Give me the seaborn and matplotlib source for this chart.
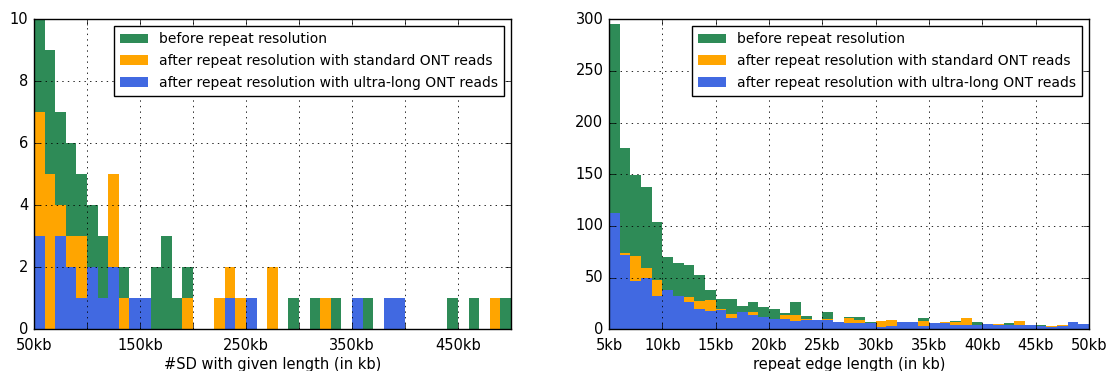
import numpy as np
import pandas as pd
import matplotlib
matplotlib.use("Agg")
import matplotlib.pyplot as plt
import seaborn as sns

# --- segmental duplications (left): 10 kb bins from 50 kb to 500 kb ---
sd_bin_start_kb = list(range(50, 500, 10))
sd_before = [10, 9, 7, 6, 5, 4, 3, 3, 2, 0,
             0, 2, 3, 1, 2, 0, 0, 0, 0, 0,
             0, 0, 0, 0, 1, 0, 1, 0, 1, 0,
             0, 1, 0, 0, 0, 0, 0, 0, 0, 1,
             0, 1, 0, 0, 1]
sd_standard = [7, 5, 4, 3, 3, 2, 1, 5, 1, 0,
               0, 0, 0, 0, 1, 0, 0, 1, 2, 1,
               0, 0, 2, 0, 0, 0, 0, 1, 0, 0,
               0, 0, 0, 0, 0, 0, 0, 0, 0, 0,
               0, 0, 0, 1, 0]
sd_ultralong = [3, 0, 3, 2, 1, 2, 1, 2, 0, 1,
                1, 0, 0, 0, 0, 0, 0, 0, 1, 0,
                1, 0, 0, 0, 0, 0, 0, 0, 0, 0,
                1, 0, 0, 1, 1, 0, 0, 0, 0, 0,
                0, 0, 0, 0, 0]

# --- repeat edges (right): 1 kb bins from 5 kb to 50 kb ---
edge_bin_start_kb = list(range(5, 50, 1))
edge_before = [295, 175, 149, 138, 104, 70, 64, 62, 53, 38,
               29, 29, 23, 26, 22, 20, 16, 26, 13, 9,
               17, 7, 12, 12, 7, 8, 9, 7, 7, 11,
               6, 7, 8, 10, 7, 5, 5, 6, 8, 4,
               4, 3, 4, 7, 5]
edge_standard = [105, 74, 71, 59, 48, 36, 30, 31, 27, 28,
                 20, 15, 16, 17, 11, 9, 14, 14, 10, 8,
                 10, 6, 11, 9, 5, 8, 9, 6, 6, 8,
                 5, 7, 7, 11, 3, 4, 5, 3, 8, 3,
                 3, 3, 4, 6, 4]
edge_ultralong = [113, 72, 47, 50, 32, 38, 32, 26, 20, 18,
                  19, 11, 17, 14, 12, 10, 10, 8, 9, 9,
                  9, 7, 6, 6, 6, 2, 3, 7, 7, 3,
                  6, 6, 4, 4, 4, 5, 4, 4, 4, 4,
                  3, 2, 3, 7, 5]

series_labels = ["before repeat resolution",
                 "after repeat resolution with standard ONT reads",
                 "after repeat resolution with ultra-long ONT reads"]
series_colors = ["#2e8b57", "#ffa500", "#4169e1"]

plt.style.use("classic")
plt.rcParams.update({
    "figure.facecolor": "white",
    "savefig.facecolor": "white",
    "font.family": ["DejaVu Sans"],
    "font.size": 10,
    "axes.labelsize": 10.5,
    "xtick.labelsize": 10.5,
    "ytick.labelsize": 10.5,
    "legend.fontsize": 10,
    "grid.linestyle": ":",
    "grid.color": "black",
    "grid.linewidth": 0.6,
    "axes.linewidth": 1.0,
})

fig = plt.figure(figsize=(11.11, 3.71), dpi=100)
ax_sd = fig.add_axes([0.0306, 0.1124, 0.4293, 0.8356])
ax_edge = fig.add_axes([0.5482, 0.1124, 0.4320, 0.8356])


def draw_panel(ax, starts, width, counts_list):
    edges = list(starts) + [starts[-1] + width]
    centers = [s + width / 2 for s in starts]
    for counts, label, color in zip(counts_list, series_labels, series_colors):
        df = pd.DataFrame({"x": centers, "w": counts})
        sns.histplot(data=df, x="x", weights="w", bins=edges, element="step",
                     fill=True, color=color, alpha=1.0, linewidth=0,
                     label=label, ax=ax)
    ax.set_xlim(edges[0], edges[-1])
    ax.set_ylabel("")
    ax.grid(True)
    ax.set_axisbelow(False)
    leg = ax.legend(loc="upper right", fancybox=False, borderaxespad=0.5,
                    handlelength=2.0, handleheight=0.7, labelspacing=0.55,
                    borderpad=0.45)
    leg.get_frame().set_edgecolor("black")
    leg.get_frame().set_linewidth(1.0)


draw_panel(ax_sd, sd_bin_start_kb, 10, [sd_before, sd_standard, sd_ultralong])
ax_sd.set_ylim(0, 10)
ax_sd.set_yticks([0, 2, 4, 6, 8, 10])
sd_ticks = list(range(50, 501, 50))
ax_sd.set_xticks(sd_ticks)
ax_sd.set_xticklabels([f"{t}kb" if (t - 50) % 100 == 0 else "" for t in sd_ticks])
ax_sd.set_xlabel("#SD with given length (in kb)", labelpad=3)

draw_panel(ax_edge, edge_bin_start_kb, 1, [edge_before, edge_standard, edge_ultralong])
ax_edge.set_ylim(0, 300)
ax_edge.set_yticks(list(range(0, 301, 50)))
edge_ticks = list(range(5, 51, 5))
ax_edge.set_xticks(edge_ticks)
ax_edge.set_xticklabels([f"{t}kb" for t in edge_ticks])
ax_edge.set_xlabel("repeat edge length (in kb)", labelpad=3)

for ax in (ax_sd, ax_edge):
    ax.tick_params(direction="in", top=True, right=True, length=4)
    ax.tick_params(axis="x", pad=6)
    ax.tick_params(axis="y", pad=4)

fig.savefig("out.png", dpi=100)
